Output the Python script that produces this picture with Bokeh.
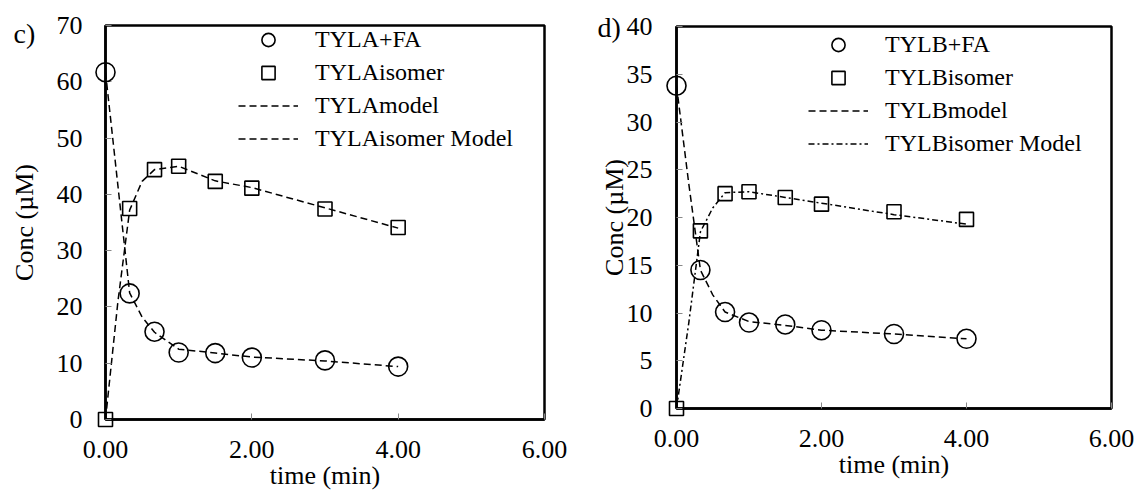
from bokeh.plotting import figure
from bokeh.models import (Range1d, FixedTicker, PrintfTickFormatter, Legend,
                          LegendItem)
from bokeh.embed import file_html
from bokeh.resources import INLINE

FONT = "Liberation Serif"

# ---------------- data: panel c) TYLA ----------------
time_a = [0, 0.33, 0.67, 1, 1.5, 2, 3, 4]
tyla_fa = [61.7, 22.4, 15.6, 11.9, 11.8, 11.0, 10.5, 9.4]
tyla_iso = [0, 37.5, 44.4, 45.0, 42.3, 41.1, 37.4, 34.1]
model_time_a = [0, 0.17, 0.33, 0.5, 0.67, 1, 1.5, 2, 3, 4]
tyla_model = [61.7, 41.5, 22.5, 18.2, 15.5, 12.5, 11.8, 11.1, 10.4, 9.4]
tyla_iso_model = [0, 21.0, 37.2, 42.3, 44.4, 45.0, 42.4, 41.2, 37.6, 34.0]

# ---------------- data: panel d) TYLB ----------------
time_b = [0, 0.33, 0.67, 1, 1.5, 2, 3, 4]
tylb_fa = [33.8, 14.5, 10.1, 9.0, 8.8, 8.2, 7.8, 7.3]
tylb_iso = [0, 18.6, 22.5, 22.7, 22.1, 21.4, 20.6, 19.8]
model_time_b = [0, 0.17, 0.33, 0.5, 0.67, 1, 1.5, 2, 3, 4]
tylb_model = [33.8, 23.5, 14.5, 11.9, 10.1, 9.1, 8.7, 8.2, 7.8, 7.3]
tylb_iso_model = [0, 9.0, 18.5, 21.0, 22.6, 22.7, 22.1, 21.5, 20.3, 19.3]

x_ticks = [0, 2, 4, 6]
y_ticks_a = [0, 10, 20, 30, 40, 50, 60, 70]
y_ticks_b = [0, 5, 10, 15, 20, 25, 30, 35, 40]
x_max = 6
y_max_a = 70
y_max_b = 40
x_title = "time (min)"
y_title = "Conc (µM)"

# place the two panels side by side as two separate roots (no frame alignment)
TEMPLATE = """{% block postamble %}
<style>
  body { display: flex !important; flex-direction: row; align-items: flex-start;
         margin: 0; padding: 0; }
</style>
{% endblock %}"""


def make_panel(width, borders, ymax, yticks, ystandoff, ylabel_standoff,
               t, fa, iso, mt, model, iso_model, names, iso_dash,
               legend_loc, tag, tag_off):
    left, right, top, bottom = borders
    p = figure(width=width, height=494, x_range=Range1d(0, x_max),
               y_range=Range1d(0, ymax), output_backend="svg",
               toolbar_location=None, title=None, min_border_left=left,
               min_border_right=right, min_border_top=top,
               min_border_bottom=bottom)
    p.grid.visible = False
    p.outline_line_color = "black"
    p.outline_line_width = 2.5
    p.background_fill_color = "white"
    p.border_fill_color = "white"

    for ax in (p.xaxis[0], p.yaxis[0]):
        ax.axis_line_color = "black"
        ax.axis_line_width = 2.5
        ax.major_tick_in = 6
        ax.major_tick_out = 0
        ax.major_tick_line_color = "#888888"
        ax.major_tick_line_width = 1
        ax.minor_tick_line_color = None
        ax.major_label_text_font = FONT
        ax.major_label_text_font_size = "26px"
        ax.major_label_text_color = "black"
        ax.axis_label_text_font = FONT
        ax.axis_label_text_font_size = "26px"
        ax.axis_label_text_font_style = "normal"
        ax.axis_label_text_color = "black"

    p.xaxis.ticker = FixedTicker(ticks=x_ticks)
    p.xaxis.formatter = PrintfTickFormatter(format="%.2f")
    p.xaxis.major_label_standoff = 21
    p.xaxis.axis_label = x_title
    p.xaxis.axis_label_standoff = 0

    p.yaxis.ticker = FixedTicker(ticks=yticks)
    p.yaxis.major_label_standoff = ystandoff
    p.yaxis.axis_label = y_title
    p.yaxis.axis_label_standoff = ylabel_standoff

    r_model = p.line(mt, model, line_color="black", line_width=1.5,
                     line_dash="7 4")
    r_iso_model = p.line(mt, iso_model, line_color="black", line_width=1.5,
                         line_dash=iso_dash)
    r_fa = p.scatter(t, fa, marker="circle", size=19, fill_color=None,
                     line_color="black", line_width=1.6, level="overlay")
    r_iso = p.scatter(t, iso, marker="square", size=14, fill_color=None,
                      line_color="black", line_width=1.6, level="overlay")

    legend = Legend(items=[LegendItem(label=names[0], renderers=[r_fa]),
                           LegendItem(label=names[1], renderers=[r_iso]),
                           LegendItem(label=names[2], renderers=[r_model]),
                           LegendItem(label=names[3], renderers=[r_iso_model])],
                    location=legend_loc, padding=0, spacing=0, margin=0,
                    glyph_width=60, glyph_height=33, label_height=33,
                    label_standoff=17, label_text_font=FONT,
                    label_text_font_size="24px", label_text_color="black",
                    border_line_color=None, background_fill_alpha=0)
    p.add_layout(legend)

    # panel tag, anchored at the top-left corner of the plot area
    p.text(x=[0], y=[ymax], text=[tag], x_offset=tag_off[0],
           y_offset=tag_off[1], text_font="Liberation Serif" and FONT,
           text_font_size="28px", text_color="black", text_align="left",
           text_baseline="middle", level="overlay")
    return p


left_fig = make_panel(570, (105, 26, 25, 75), y_max_a, y_ticks_a, 23, 15,
                      time_a, tyla_fa, tyla_iso, model_time_a, tyla_model,
                      tyla_iso_model,
                      ["TYLA+FA", "TYLAisomer", "TYLAmodel", "TYLAisomer Model"],
                      "7 4", (133, 264), "c)", (-92, 8))

right_fig = make_panel(566, (106, 25, 26, 86), y_max_b, y_ticks_b, 24, -5,
                       time_b, tylb_fa, tylb_iso, model_time_b, tylb_model,
                       tylb_iso_model,
                       ["TYLB+FA", "TYLBisomer", "TYLBmodel", "TYLBisomer Model"],
                       "6 3 2 3", (132, 248), "d)", (-79, 1))

open("out.html", "w").write(file_html([left_fig, right_fig], INLINE,
                                      template=TEMPLATE))
